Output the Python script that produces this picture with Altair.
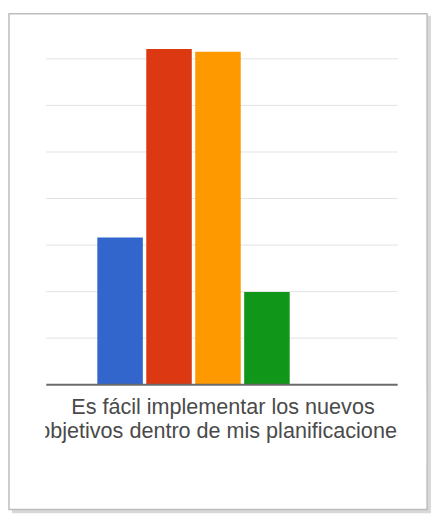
import altair as alt
import pandas as pd

series = ["Serie 1", "Serie 2", "Serie 3", "Serie 4"]
values = [3.16, 7.21, 7.15, 1.99]
colors = ["#3366cc", "#dc3912", "#ff9900", "#109618"]
grid_values = [1, 2, 3, 4, 5, 6, 7]
label_lines = "Es fácil implementar los nuevos\nobjetivos dentro de mis planificaciones"

df = pd.DataFrame({"serie": series, "valor": values})
grid_df = pd.DataFrame({"g": grid_values})
one = pd.DataFrame({"k": [0]})

W, H = 358, 360
yscale = alt.Scale(domain=[0, 7.59], nice=False, zero=True)

shadow = alt.Chart(one).mark_rect(fill="#d9d9d9", opacity=1).encode(
    x=alt.value(-35), x2=alt.value(W + 34), y=alt.value(-16), y2=alt.value(H + 131)
)
frame = alt.Chart(one).mark_rect(fill="white", stroke="#bdbdbd", strokeWidth=1.5).encode(
    x=alt.value(-38), x2=alt.value(W + 30), y=alt.value(-18), y2=alt.value(H + 127)
)

grid = alt.Chart(grid_df).mark_rule(color="#e2e2e2", strokeWidth=1).encode(
    x=alt.value(0), x2=alt.value(W),
    y=alt.Y("g:Q", scale=yscale, axis=None),
)

bars = alt.Chart(df).mark_bar().encode(
    x=alt.X("serie:N", axis=None, sort=series,
            scale=alt.Scale(range=[52, 248], paddingInner=0.07, paddingOuter=0)),
    y=alt.Y("valor:Q", scale=yscale, axis=None),
    color=alt.Color("serie:N", scale=alt.Scale(domain=series, range=colors), legend=None),
)

baseline = alt.Chart(one).mark_rule(color="#6b6b6b", strokeWidth=2).encode(
    x=alt.value(0), x2=alt.value(W), y=alt.value(H)
)

label = alt.Chart(one).mark_text(
    text=label_lines, lineBreak="\n", lineHeight=24, font="Liberation Sans",
    fontSize=22, color="#4a4a4a", align="center", baseline="alphabetic"
).encode(x=alt.value(W / 2 + 1), y=alt.value(H + 30))

mask_left = alt.Chart(one).mark_rect(color="white").encode(
    x=alt.value(-36.5), x2=alt.value(-1), y=alt.value(H + 3), y2=alt.value(H + 80)
)
mask_right = alt.Chart(one).mark_rect(color="white").encode(
    x=alt.value(W), x2=alt.value(W + 29), y=alt.value(H + 3), y2=alt.value(H + 80)
)

chart = alt.layer(shadow, frame, grid, bars, baseline, label, mask_left, mask_right).properties(
    width=W, height=H,
    autosize=alt.AutoSizeParams(type="none"),
    padding={"left": 39, "top": 19, "right": 36, "bottom": 134},
).configure_view(stroke=None)

chart.save("out.html", embed_options={"renderer": "svg", "actions": False})
